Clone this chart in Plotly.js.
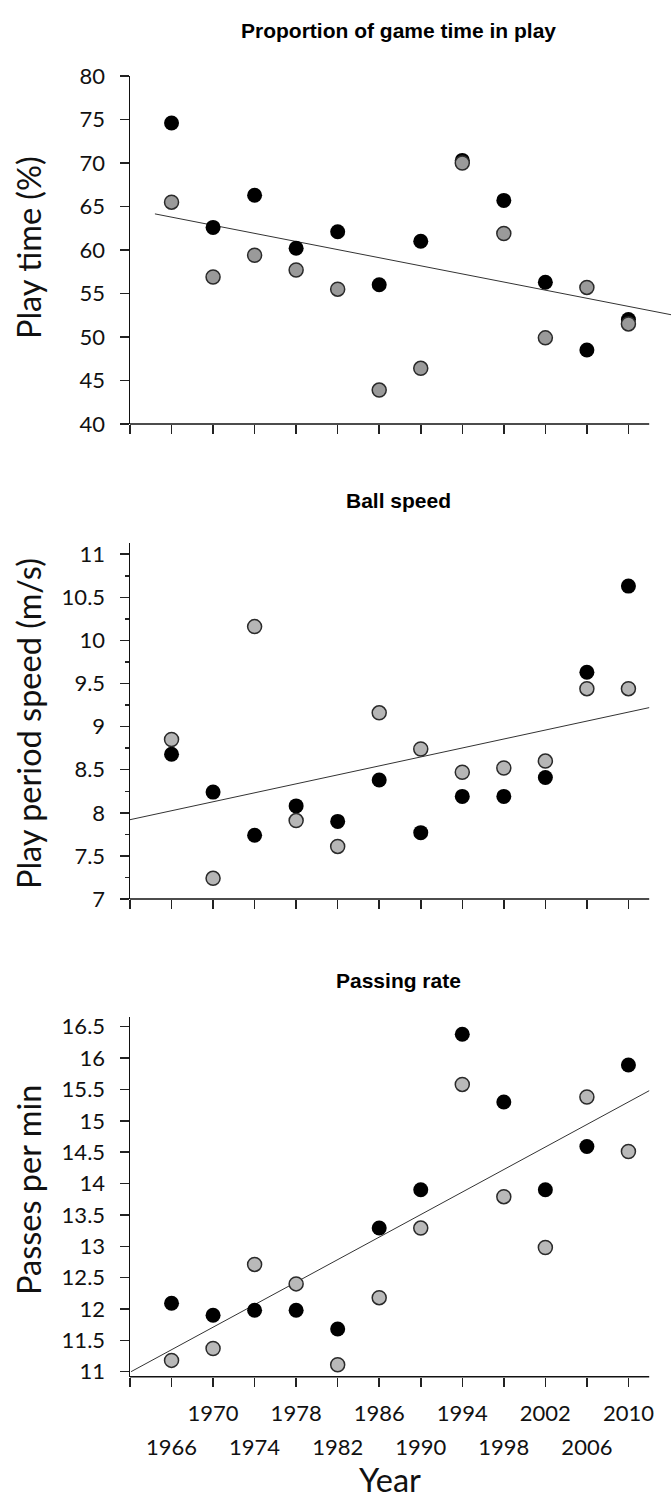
<!DOCTYPE html>
<html>
<head>
<meta charset="utf-8">
<script src="https://cdn.plot.ly/plotly-3.0.1.min.js"></script>
<style>html,body{margin:0;padding:0;background:#fff}#chart{width:671px;height:1503px}</style>
</head>
<body>
<div id="chart"></div>
<script>
// ---- data ----
const years = [1966, 1970, 1974, 1978, 1982, 1986, 1990, 1994, 1998, 2002, 2006, 2010];

const playTimeBlack = [74.6, 62.6, 66.3, 60.2, 62.1, 56.0, 61.0, 70.3, 65.7, 56.3, 48.5, 52.0];
const playTimeGrey  = [65.5, 56.9, 59.4, 57.7, 55.5, 43.9, 46.4, 70.0, 61.9, 49.9, 55.7, 51.5];

const speedBlack = [8.68, 8.24, 7.74, 8.08, 7.90, 8.38, 7.77, 8.19, 8.19, 8.41, 9.63, 10.63];
const speedGrey  = [8.85, 7.24, 10.16, 7.91, 7.61, 9.16, 8.74, 8.47, 8.52, 8.60, 9.44, 9.44];

const passBlack = [12.09, 11.90, 11.98, 11.98, 11.68, 13.29, 13.90, 16.38, 15.30, 13.90, 14.59, 15.89];
const passGrey  = [11.18, 11.37, 12.71, 12.40, 11.11, 12.18, 13.29, 15.58, 13.79, 12.98, 15.38, 14.51];

// fitted trend lines (end points)
const trendPlayX = [1964.4, 2014.2];
const trendPlayY = [64.15, 52.54];
const trendSpeedX = [1962, 2012];
const trendSpeedY = [7.92, 9.22];
const trendPassX = [1962.1, 2012];
const trendPassY = [11.0, 15.48];

// axes
const xTickYears = [1962, 1966, 1970, 1974, 1978, 1982, 1986, 1990, 1994, 1998, 2002, 2006, 2010];
const xLabelTopRow = ['1970', '1978', '1986', '1994', '2002', '2010'];
const xLabelBottomRow = ['1966', '1974', '1982', '1990', '1998', '2006'];
const xAxisStart = 1962, xAxisEnd = 2012;

const playTicks = [40, 45, 50, 55, 60, 65, 70, 75, 80];
const speedTicks = [7, 7.5, 8, 8.5, 9, 9.5, 10, 10.5, 11];
const passTicks = [11, 11.5, 12, 12.5, 13, 13.5, 14, 14.5, 15, 15.5, 16, 16.5];

const panelTitles = ['Proportion of game time in play', 'Ball speed', 'Passing rate'];
const yTitles = ['Play time (%)', 'Play period speed (m/s)', 'Passes per min'];
const xTitle = 'Year';

// ---- styling ----
const W = 671, H = 1503;
const tickFont = {family: 'Lato, "Open Sans", sans-serif', size: 22, color: '#111'};
const titleFont = {family: '"Liberation Sans", Arial, sans-serif', size: 21, color: '#000'};
const axTitleFont = {family: 'Lato, "Open Sans", sans-serif', size: 32.5, color: '#111'};

const py = p => 1 - p / H;           // pixel row -> paper fraction
const xDomain = [130 / W, 1];
const xRange = [1962, 2014.1];

function blackTrace(y, xa, ya) {
  return {x: years, y: y, xaxis: xa, yaxis: ya, type: 'scatter', mode: 'markers',
    marker: {size: 15, color: '#000', line: {width: 0}}, cliponaxis: false, hoverinfo: 'skip'};
}
function greyTrace(y, xa, ya, col) {
  return {x: years, y: y, xaxis: xa, yaxis: ya, type: 'scatter', mode: 'markers',
    marker: {size: 14, color: col, line: {width: 1.5, color: '#2a2a2a'}}, cliponaxis: false, hoverinfo: 'skip'};
}
function trendTrace(x, y, xa, ya) {
  return {x: x, y: y, xaxis: xa, yaxis: ya, type: 'scatter', mode: 'lines',
    line: {color: '#333', width: 1}, hoverinfo: 'skip'};
}

const data = [
  trendTrace(trendPlayX, trendPlayY, 'x', 'y'),
  blackTrace(playTimeBlack, 'x', 'y'),
  greyTrace(playTimeGrey, 'x', 'y', '#9a9a9a'),
  trendTrace(trendSpeedX, trendSpeedY, 'x2', 'y2'),
  blackTrace(speedBlack, 'x2', 'y2'),
  greyTrace(speedGrey, 'x2', 'y2', '#b6b6b6'),
  trendTrace(trendPassX, trendPassY, 'x3', 'y3'),
  blackTrace(passBlack, 'x3', 'y3'),
  greyTrace(passGrey, 'x3', 'y3', '#b9b9b9'),
  // empty carrier trace so the second (staggered) label row axis is drawn
  {x: [xAxisStart], y: [null], xaxis: 'x4', yaxis: 'y3', type: 'scatter', mode: 'markers',
   marker: {opacity: 0}, hoverinfo: 'skip'}
];

function xAxis(anchor, showLabels) {
  const topMap = {};
  xLabelTopRow.forEach(t => topMap[t] = t);
  return {
    domain: xDomain, range: xRange, anchor: anchor, fixedrange: true,
    showline: false, zeroline: false, showgrid: false,
    ticks: 'outside', ticklen: 9, tickwidth: 1.5, tickcolor: '#222',
    tickmode: 'array', tickvals: xTickYears,
    ticktext: xTickYears.map(v => topMap[String(v)] || ''),
    showticklabels: showLabels, tickfont: tickFont, ticklabelstandoff: 8
  };
}
function yAxis(anchor, domain, range, tickvals, minor) {
  const ax = {
    domain: domain, range: range, anchor: anchor, fixedrange: true,
    showline: true, linewidth: 1.5, linecolor: '#111',
    zeroline: false, showgrid: false,
    ticks: 'outside', ticklen: 9, tickwidth: 1.5, tickcolor: '#222',
    tickmode: 'array', tickvals: tickvals, ticktext: tickvals.map(v => String(v)),
    tickfont: tickFont, ticklabelstandoff: 10
  };
  if (minor) ax.minor = {dtick: minor, ticks: 'outside', ticklen: 4, tickwidth: 1.5, tickcolor: '#222', showgrid: false};
  return ax;
}

const layout = {
  width: W, height: H,
  margin: {l: 0, r: 0, t: 0, b: 0},
  paper_bgcolor: '#fff', plot_bgcolor: 'rgba(0,0,0,0)',
  showlegend: false,
  xaxis: xAxis('y', false),
  xaxis2: xAxis('y2', false),
  xaxis3: xAxis('y3', true),
  xaxis4: {
    overlaying: 'x3', anchor: 'y3', range: xRange, fixedrange: true,
    showline: false, zeroline: false, showgrid: false,
    ticks: 'outside', ticklen: 9, tickwidth: 1.5, tickcolor: 'rgba(0,0,0,0)',
    tickmode: 'array', tickvals: xLabelBottomRow.map(Number), ticktext: xLabelBottomRow,
    tickfont: tickFont, ticklabelstandoff: 42
  },
  yaxis: yAxis('x', [py(424), py(76)], [40, 80], playTicks, null),
  yaxis2: yAxis('x2', [py(899), py(543)], [7, 11.13], speedTicks, 0.25),
  yaxis3: yAxis('x3', [py(1376.7), py(1016.7)], [10.92, 16.66], passTicks, null),
  shapes: [['x', 'y'], ['x2', 'y2'], ['x3', 'y3']].map(([xa, ya]) => ({
    type: 'line', xref: xa, yref: ya + ' domain', x0: xAxisStart, x1: xAxisEnd, y0: 0, y1: 0,
    line: {color: '#111', width: 1.5}, layer: 'above'
  })),
  annotations: [
    {text: '<b>' + panelTitles[0] + '</b>', x: 398 / W, y: py(31)},
    {text: '<b>' + panelTitles[1] + '</b>', x: 398 / W, y: py(500)},
    {text: '<b>' + panelTitles[2] + '</b>', x: 398 / W, y: py(980)}
  ].map(a => Object.assign(a, {xref: 'paper', yref: 'paper', xanchor: 'center', yanchor: 'middle',
        showarrow: false, font: titleFont}))
  .concat([
    {text: yTitles[0], y: py(248)},
    {text: yTitles[1], y: py(724)},
    {text: yTitles[2], y: py(1190)}
  ].map(a => Object.assign(a, {x: 28 / W, xref: 'paper', yref: 'paper', xanchor: 'center', yanchor: 'middle',
        textangle: -90, showarrow: false, font: axTitleFont})))
  .concat([{text: xTitle, x: 390 / W, y: py(1479), xref: 'paper', yref: 'paper', xanchor: 'center',
        yanchor: 'middle', showarrow: false, font: axTitleFont}])
};

Plotly.newPlot('chart', data, layout, {staticPlot: true, displayModeBar: false});
</script>
</body>
</html>
